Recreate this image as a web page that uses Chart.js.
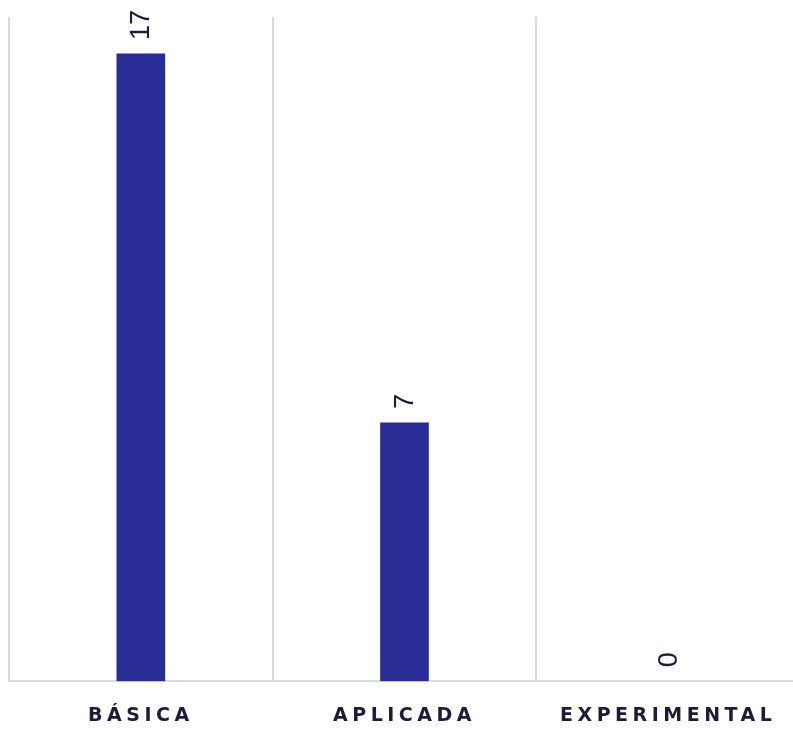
<!DOCTYPE html>
<html>
<head>
<meta charset="utf-8">
<script src="https://cdn.jsdelivr.net/npm/chart.js@4.4.1/dist/chart.umd.min.js"></script>
<style>
  html, body { margin: 0; padding: 0; background: #ffffff; overflow: hidden; }
  #wrap { width: 800px; height: 729px; }
</style>
</head>
<body>
<div id="wrap"><canvas id="chart" width="800" height="729"></canvas></div>
<script>
// Research types and number of projects in each
const categories = ['BÁSICA', 'APLICADA', 'EXPERIMENTAL'];
const projectCounts = [17, 7, 0];
const axisMax = 18;

const barColor = '#282c94';
const textColor = '#1c1c38';
const gridColor = '#dadada';

// Value labels written vertically above each bar
const valueLabels = {
  id: 'valueLabels',
  afterDatasetsDraw(chart) {
    const ctx = chart.ctx;
    const meta = chart.getDatasetMeta(0);
    const values = chart.data.datasets[0].data;
    ctx.save();
    ctx.fillStyle = textColor;
    ctx.font = "27px 'Liberation Sans Narrow', 'Liberation Sans', sans-serif";
    ctx.textAlign = 'left';
    ctx.textBaseline = 'middle';
    meta.data.forEach((bar, i) => {
      ctx.save();
      ctx.translate(bar.x + 1, bar.y - 14);
      ctx.rotate(-Math.PI / 2);
      ctx.fillText(String(values[i]), 0, 0);
      ctx.restore();
    });
    ctx.restore();
  }
};

// Wider letter spacing for the category axis labels
const axisSpacing = {
  id: 'axisSpacing',
  afterUpdate(chart) {
    const scale = chart.scales.x;
    if (!scale || scale._spaced) return;
    const drawLabels = scale.drawLabels;
    scale.drawLabels = function (area) {
      const ctx = this.ctx;
      ctx.save();
      ctx.letterSpacing = '4.5px';
      drawLabels.call(this, area);
      ctx.restore();
    };
    scale._spaced = true;
  }
};

new Chart(document.getElementById('chart'), {
  type: 'bar',
  data: {
    labels: categories,
    datasets: [{
      data: projectCounts,
      backgroundColor: (c) => (c.raw === 0 ? 'rgba(0,0,0,0)' : barColor),
      borderWidth: 0,
      barThickness: 48
    }]
  },
  options: {
    responsive: false,
    animation: false,
    layout: { padding: { left: 9, right: 0, top: 17, bottom: -21 } },
    plugins: {
      legend: { display: false },
      tooltip: { enabled: false }
    },
    scales: {
      x: {
        grid: {
          display: true,
          offset: true,
          color: gridColor,
          lineWidth: 2,
          drawTicks: false
        },
        border: { display: true, color: gridColor, width: 2 },
        ticks: {
          color: textColor,
          padding: 23,
          font: { family: "'DejaVu Sans', sans-serif", size: 19, weight: 'bold' }
        }
      },
      y: {
        display: false,
        min: 0,
        max: axisMax
      }
    }
  },
  plugins: [valueLabels, axisSpacing]
});
</script>
</body>
</html>
